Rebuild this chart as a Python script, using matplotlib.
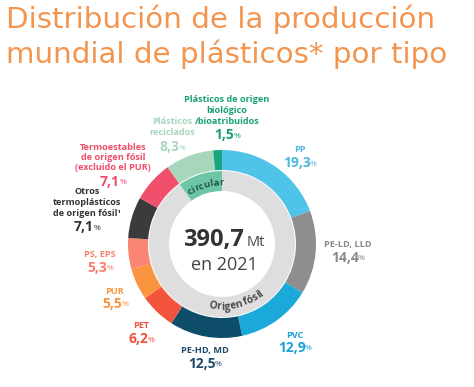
import numpy as np
import matplotlib
matplotlib.use("Agg")
import matplotlib.pyplot as plt
from matplotlib.font_manager import FontProperties

# share of world plastics production 2021, clockwise from 12 o'clock
types = ["PP", "PE-LD, LLD", "PVC", "PE-HD, MD", "PET", "PUR", "PS, EPS",
         "Otros termoplásticos de origen fósil", "Termoestables de origen fósil",
         "Plásticos reciclados", "Plásticos de origen biológico/bioatribuidos"]
shares = [19.3, 14.4, 12.9, 12.5, 6.2, 5.5, 5.3, 7.1, 7.1, 8.3, 1.5]
share_labels = ["19,3", "14,4", "12,9", "12,5", "6,2", "5,5", "5,3", "7,1", "7,1", "8,3", "1,5"]
n_fossil = 9  # first nine types are fossil-based, the rest "circular"
total_mt = "390,7"
year = "2021"

colors = ["#4fc3e8", "#8e8e8e", "#1ba9d9", "#0d4d69", "#f4543b", "#fb943f",
          "#fa8572", "#3b3b3b", "#f0506c", "#a6d7bd", "#17a77a"]
label_colors = ["#4fb8e0", "#8a8a8a", "#1ba3d6", "#1d4d6b", "#f0503c", "#f99542",
                "#f7806e", "#333333", "#ef4d6a", "#a8d6bd", "#17a077"]

W, H = 474, 387
FONT = ["Open Sans", "DejaVu Sans"]
plt.rcParams["font.family"] = FONT

fig = plt.figure(figsize=(W / 100, H / 100), dpi=100)
ax = fig.add_axes([0, 0, 1, 1])

cx, cy = 222, H - 244

ax.pie(shares, colors=colors, startangle=90, counterclock=False, radius=94,
       center=(cx, cy), wedgeprops=dict(width=20, edgecolor="none"))
inner = [sum(shares[:n_fossil]), sum(shares[n_fossil:])]
ax.pie(inner, colors=["#dedede", "#6cc6a6"], startangle=90, counterclock=False,
       radius=73, center=(cx, cy), wedgeprops=dict(width=20, edgecolor="none"))

ax.set_xlim(0, W)
ax.set_ylim(0, H)
ax.set_aspect("equal")
ax.axis("off")

renderer = fig.canvas.get_renderer()


def put(x, y, s, **kw):
    ax.text(x, H - y, s, ha="center", va="center", **kw)


def arc_text(s, theta_c, r, top, fontsize, **kw):
    # lay characters along the ring; prefix widths give the advance (1 unit = 1 px)
    fp = FontProperties(family=FONT, size=fontsize, weight="bold")

    def width(t):
        if not t:
            return 0.0
        # pad with a dot so trailing spaces count, then remove the dot
        return (renderer.get_text_width_height_descent(t + ".", fp, ismath=False)[0]
                - renderer.get_text_width_height_descent(".", fp, ismath=False)[0])

    cum = [width(s[:i]) for i in range(len(s) + 1)]
    total = cum[-1]
    half_cap = 0.5 * 0.72 * fontsize * 100 / 72
    rb = r - half_cap if top else r + half_cap  # baseline radius
    for i, ch in enumerate(s):
        if ch == " ":
            continue
        mid = (cum[i] + cum[i + 1]) / 2 - total / 2
        off = np.degrees(mid / rb)
        th = theta_c - off if top else theta_c + off
        x = cx + rb * np.cos(np.radians(th))
        y = cy + rb * np.sin(np.radians(th))
        rot = th - 90 if top else th + 90
        ax.text(x, y, ch, rotation=rot, ha="center", va="baseline",
                rotation_mode="anchor", fontsize=fontsize, fontweight="bold", **kw)


arc_text("circular", 106, 62, True, 6.8, color="#22574a")
arc_text("Origen fósil", 284, 62, False, 7.3, color="#4a4a4a")

# title
title_kw = dict(fontsize=21.2, color="#f3944f", ha="left", va="baseline",
                family=["DejaVu Sans"])
ax.text(6, H - 28, "Distribución de la producción", **title_kw)
ax.text(6, H - 63, "mundial de plásticos* por tipo", **title_kw)

# centre
put(214, 240, total_mt, fontsize=17, fontweight="bold", color="#333333")
put(256, 242, "Mt", fontsize=10.5, color="#444444")
put(224, 265, "en " + year, fontsize=13, color="#444444")

# type names and shares: (name lines, x, y of first line, y of value)
label_pos = [
    (["PP"], 300, 149, 163),
    (["PE-LD, LLD"], 348, 244, 258),
    (["PVC"], 295, 335, 348),
    (["PE-HD, MD"], 205, 350, 364),
    (["PET"], 141, 326, 339),
    (["PUR"], 115, 291, 304),
    (["PS, EPS"], 100, 254, 268),
    (["Otros", "termoplásticos", "de origen fósil¹"], 87, 192, 227),
    (["Termoestables", "de origen fósil", "(excluido el PUR)"], 113, 147, 182),
    (["Plásticos", "reciclados"], 172, 122, 147),
    (["Plásticos de origen", "biológico", "/bioatribuidos"], 227, 100, 135),
]

for (lines, x, y0, yv), val, col in zip(label_pos, share_labels, label_colors):
    for k, line in enumerate(lines):
        put(x, y0 + k * 10.5, line, fontsize=6.6, fontweight="bold", color=col)
    ax.text(x - 3, H - yv, val, fontsize=10, fontweight="bold", color=col,
            ha="center", va="center")
    ax.text(x - 3 + len(val) * 3.1, H - yv - 1, "%", fontsize=6, color=col,
            ha="left", va="center")

fig.savefig("out.png", dpi=100)
